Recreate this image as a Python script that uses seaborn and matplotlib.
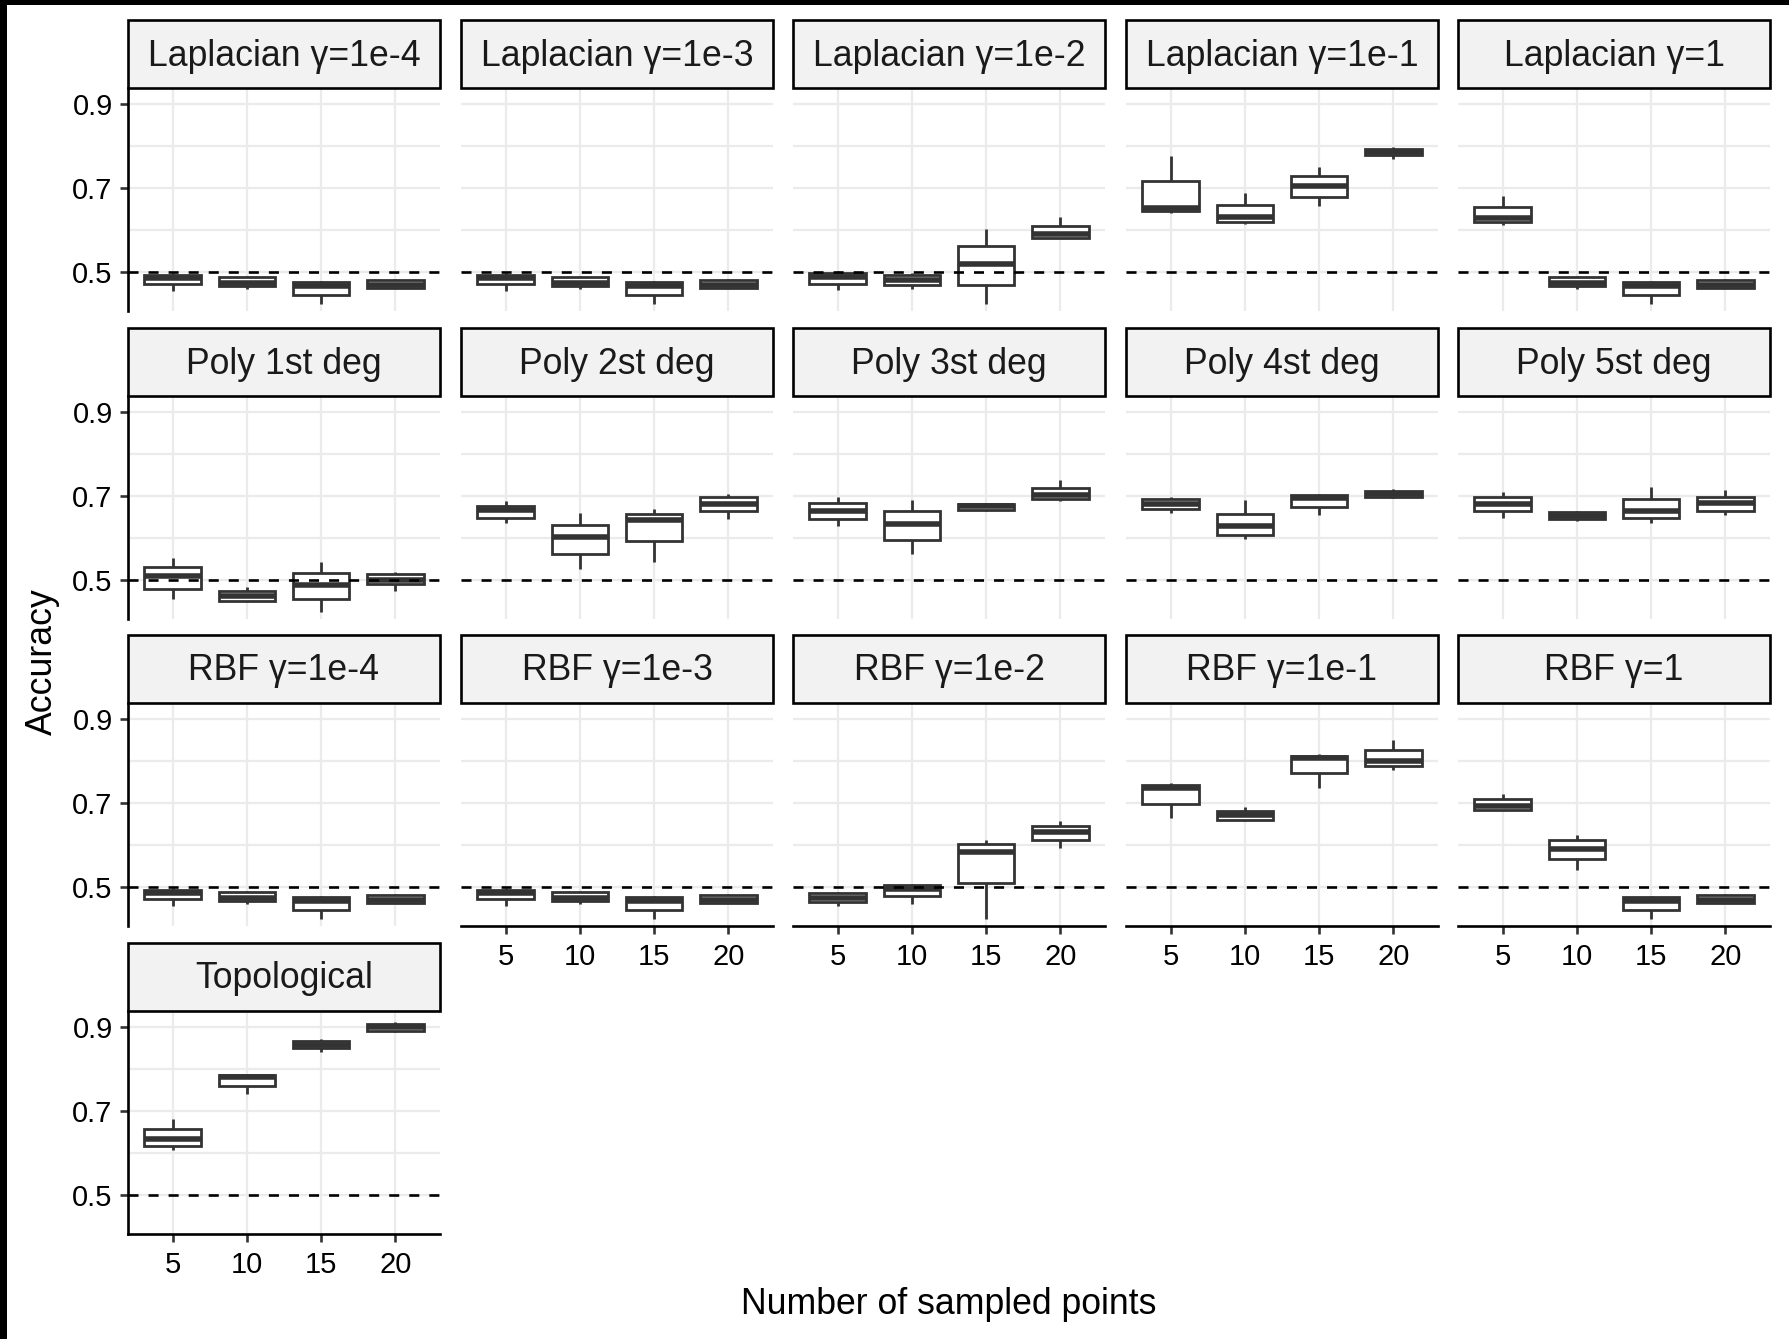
import numpy as np
import pandas as pd
import matplotlib
matplotlib.use("Agg")
import matplotlib.pyplot as plt
from matplotlib.patches import Rectangle
import seaborn as sns

# ---------------- data: five-number summaries (whisker low, Q1, median, Q3, whisker high)
n_points = [5, 10, 15, 20]

lap_1e4 = [[0.456, 0.471, 0.486, 0.493, 0.498],
           [0.460, 0.467, 0.475, 0.489, 0.490],
           [0.424, 0.445, 0.466, 0.476, 0.478],
           [0.461, 0.462, 0.470, 0.480, 0.484]]
lap_1e3 = [[0.456, 0.471, 0.486, 0.493, 0.498],
           [0.460, 0.467, 0.475, 0.489, 0.490],
           [0.424, 0.445, 0.466, 0.476, 0.478],
           [0.461, 0.462, 0.470, 0.480, 0.484]]
lap_1e2 = [[0.457, 0.471, 0.489, 0.497, 0.502],
           [0.460, 0.470, 0.482, 0.494, 0.497],
           [0.424, 0.470, 0.518, 0.561, 0.602],
           [0.580, 0.582, 0.590, 0.610, 0.630]]
lap_1e1 = [[0.640, 0.646, 0.653, 0.716, 0.776],
           [0.615, 0.620, 0.631, 0.660, 0.687],
           [0.657, 0.679, 0.704, 0.728, 0.749],
           [0.769, 0.777, 0.786, 0.793, 0.796]]
lap_1 = [[0.612, 0.618, 0.629, 0.654, 0.680],
         [0.460, 0.467, 0.475, 0.489, 0.490],
         [0.424, 0.445, 0.466, 0.476, 0.478],
         [0.461, 0.462, 0.470, 0.480, 0.484]]

poly_1 = [[0.456, 0.478, 0.510, 0.530, 0.553],
          [0.447, 0.451, 0.463, 0.473, 0.483],
          [0.424, 0.455, 0.489, 0.517, 0.544],
          [0.475, 0.491, 0.501, 0.514, 0.518]]
poly_2 = [[0.635, 0.648, 0.667, 0.676, 0.688],
          [0.527, 0.563, 0.602, 0.631, 0.659],
          [0.544, 0.592, 0.642, 0.657, 0.668],
          [0.646, 0.665, 0.681, 0.696, 0.704]]
poly_3 = [[0.628, 0.644, 0.663, 0.683, 0.698],
          [0.561, 0.596, 0.634, 0.663, 0.689],
          [0.663, 0.667, 0.675, 0.681, 0.683],
          [0.688, 0.692, 0.702, 0.718, 0.737]]
poly_4 = [[0.660, 0.669, 0.680, 0.692, 0.698],
          [0.598, 0.608, 0.628, 0.657, 0.689],
          [0.654, 0.674, 0.694, 0.701, 0.705],
          [0.694, 0.698, 0.705, 0.712, 0.716]]
poly_5 = [[0.648, 0.664, 0.680, 0.696, 0.708],
          [0.640, 0.646, 0.652, 0.661, 0.665],
          [0.636, 0.648, 0.665, 0.693, 0.722],
          [0.654, 0.664, 0.684, 0.697, 0.714]]

rbf_1e4 = [[0.456, 0.471, 0.486, 0.493, 0.498],
           [0.460, 0.467, 0.475, 0.489, 0.490],
           [0.424, 0.445, 0.466, 0.476, 0.478],
           [0.461, 0.462, 0.470, 0.480, 0.484]]
rbf_1e3 = [[0.456, 0.471, 0.486, 0.493, 0.498],
           [0.460, 0.467, 0.475, 0.489, 0.490],
           [0.424, 0.445, 0.466, 0.476, 0.478],
           [0.461, 0.462, 0.470, 0.480, 0.484]]
rbf_1e2 = [[0.456, 0.464, 0.475, 0.485, 0.489],
           [0.460, 0.478, 0.495, 0.505, 0.508],
           [0.424, 0.509, 0.584, 0.603, 0.611],
           [0.593, 0.611, 0.630, 0.646, 0.656]]
rbf_1e1 = [[0.664, 0.697, 0.735, 0.742, 0.748],
           [0.656, 0.660, 0.670, 0.680, 0.690],
           [0.736, 0.770, 0.807, 0.812, 0.816],
           [0.777, 0.787, 0.800, 0.826, 0.849]]
rbf_1 = [[0.682, 0.684, 0.692, 0.708, 0.722],
         [0.540, 0.567, 0.591, 0.611, 0.623],
         [0.424, 0.445, 0.466, 0.476, 0.478],
         [0.461, 0.462, 0.470, 0.480, 0.484]]

topological = [[0.607, 0.617, 0.634, 0.657, 0.681],
               [0.741, 0.760, 0.781, 0.785, 0.786],
               [0.840, 0.849, 0.857, 0.865, 0.870],
               [0.886, 0.890, 0.898, 0.906, 0.910]]

panel_titles = ["Laplacian γ=1e-4", "Laplacian γ=1e-3", "Laplacian γ=1e-2", "Laplacian γ=1e-1", "Laplacian γ=1",
                "Poly 1st deg", "Poly 2st deg", "Poly 3st deg", "Poly 4st deg", "Poly 5st deg",
                "RBF γ=1e-4", "RBF γ=1e-3", "RBF γ=1e-2", "RBF γ=1e-1", "RBF γ=1",
                "Topological"]
panel_values = [lap_1e4, lap_1e3, lap_1e2, lap_1e1, lap_1,
                poly_1, poly_2, poly_3, poly_4, poly_5,
                rbf_1e4, rbf_1e3, rbf_1e2, rbf_1e1, rbf_1,
                topological]
chance_level = 0.5

rows = []
for title, vals in zip(panel_titles, panel_values):
    for n, five in zip(n_points, vals):
        for v in five:
            rows.append({"panel": title, "n": n, "acc": v})
df = pd.DataFrame(rows)

# ---------------- style / layout
sns.set_theme(style="white")
plt.rcParams["font.family"] = ["Liberation Sans", "DejaVu Sans"]

W, H = 1789, 1339
fig = plt.figure(figsize=(W / 100, H / 100), dpi=100)
fig.patch.set_facecolor("white")

# black frame pieces (left and top)
fig.add_artist(Rectangle((0, 0), 7 / W, 1, transform=fig.transFigure,
                         facecolor="black", edgecolor="none", zorder=10))
fig.add_artist(Rectangle((0, 1 - 5 / H), 1, 5 / H, transform=fig.transFigure,
                         facecolor="black", edgecolor="none", zorder=10))

col_left = [128, 461, 793, 1126, 1458]
pw = 312
row_top = [88, 396, 703, 1011]
ph = 223
strip_h = 68

grid_col = "#EBEBEB"
box_col = "#333333"
tick_size = 21

for i, title in enumerate(panel_titles):
    r, c = divmod(i, 5)
    x0 = col_left[c]
    y0 = row_top[r]
    ax = fig.add_axes([x0 / W, 1 - (y0 + ph) / H, pw / W, ph / H])
    sub = df[df["panel"] == title]
    sns.boxplot(data=sub, x="n", y="acc", order=n_points, ax=ax,
                color="white", saturation=1, linecolor=box_col, linewidth=2.0,
                width=0.76, whis=np.inf, showcaps=False,
                medianprops=dict(linewidth=4.0, color=box_col))
    ax.axhline(chance_level, color="black", lw=1.9, ls=(0, (3.8, 3.8)), zorder=6)

    ax.set_xlim(-0.6, 3.6)
    ax.set_ylim(0.4075, 0.937)
    ax.set_yticks([0.5, 0.7, 0.9])
    ax.set_yticks([0.6, 0.8], minor=True)
    ax.set_yticklabels(["0.5", "0.7", "0.9"])
    ax.set_xticks(range(4))
    ax.set_xticklabels([str(n) for n in n_points])
    ax.grid(True, which="both", axis="y", color=grid_col, lw=1.6, zorder=0)
    ax.grid(True, which="major", axis="x", color=grid_col, lw=1.6, zorder=0)
    ax.set_axisbelow(True)
    ax.set_facecolor("white")
    ax.set_xlabel("")
    ax.set_ylabel("")

    for s in ax.spines.values():
        s.set_visible(False)

    is_left = (c == 0)
    is_bottom = (r == 3) or (r == 2 and c > 0)

    ax.tick_params(which="minor", length=0, left=False, bottom=False)
    if is_left:
        ax.spines["left"].set_visible(True)
        ax.spines["left"].set_color("black")
        ax.spines["left"].set_linewidth(1.9)
        ax.tick_params(axis="y", which="major", left=True, length=6, width=1.9,
                       color="#333333", labelsize=tick_size, labelcolor="black", pad=5)
    else:
        ax.tick_params(axis="y", which="major", left=False, labelleft=False)
    if is_bottom:
        ax.spines["bottom"].set_visible(True)
        ax.spines["bottom"].set_color("black")
        ax.spines["bottom"].set_linewidth(1.9)
        ax.tick_params(axis="x", which="major", bottom=True, length=6, width=1.9,
                       color="#333333", labelsize=tick_size, labelcolor="black", pad=6.5)
    else:
        ax.tick_params(axis="x", which="major", bottom=False, labelbottom=False)

    # facet strip
    fig.add_artist(Rectangle((x0 / W, 1 - y0 / H), pw / W, strip_h / H,
                             transform=fig.transFigure, facecolor="#F2F2F2",
                             edgecolor="black", lw=1.9, zorder=5))
    fig.text((x0 + pw / 2) / W, 1 - (y0 - strip_h / 2 + 2) / H, title,
             ha="center", va="center", fontsize=25.7, color="#1A1A1A", zorder=6)

fig.text(949 / W, 1 - 1304 / H, "Number of sampled points", ha="center", va="center",
         fontsize=25.7, color="black")
fig.text(42 / W, 1 - 662 / H, "Accuracy", ha="center", va="center", rotation=90,
         fontsize=25.7, color="black")

fig.savefig("out.png", dpi=100, facecolor="white")
